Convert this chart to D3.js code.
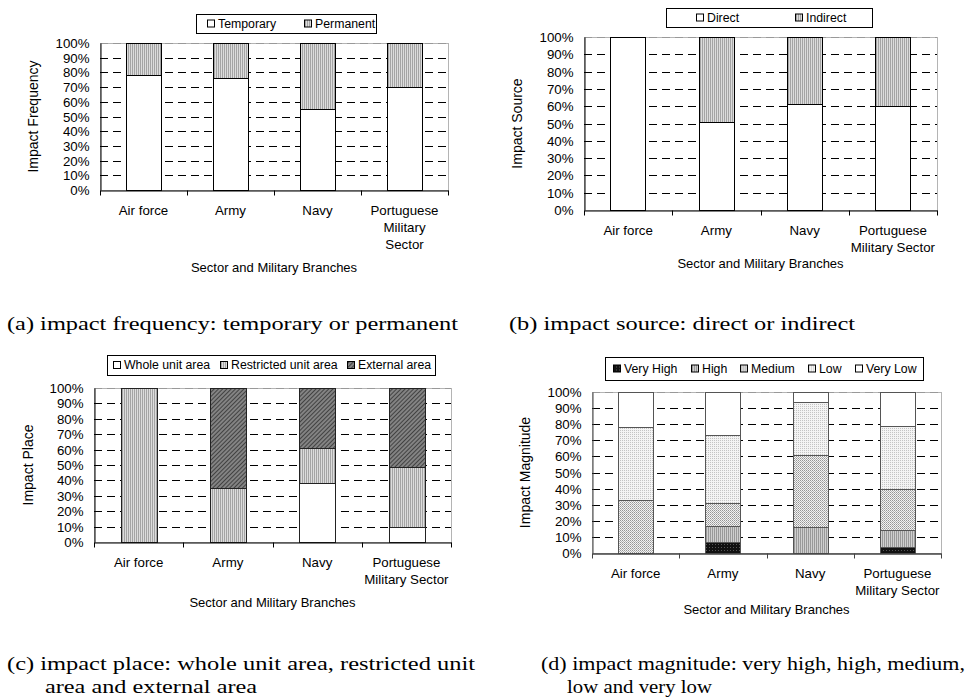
<!DOCTYPE html>
<html>
<head>
<meta charset="utf-8">
<script src="https://cdn.jsdelivr.net/npm/d3@7"></script>
<style>
body { margin: 0; background: #fff; }
svg { display: block; }
text { font-family: "Liberation Sans", Arial, sans-serif; font-size: 13.3px; fill: #000; }
text.ytitle { font-size: 14px; }
text.xtitle { font-size: 13px; }
text.legend { font-size: 12.3px; }
text.caption { font-family: "Liberation Serif", "Times New Roman", serif; font-size: 19.5px; }
</style>
</head>
<body>
<svg id="chart" width="968" height="700"></svg>
<script>
var branches = ["Air force", "Army", "Navy", "Portuguese Military Sector"];
var yTicks = [0, 10, 20, 30, 40, 50, 60, 70, 80, 90, 100];

// (a) frequency
var frequencyKeys = ["Temporary", "Permanent"];
var temporary = [78, 76, 55, 70];
var permanent = [22, 24, 45, 30];

// (b) source
var sourceKeys = ["Direct", "Indirect"];
var direct = [100, 51, 61, 60];
var indirect = [0, 49, 39, 40];

// (c) place
var placeKeys = ["Whole unit area", "Restricted unit area", "External area"];
var wholeUnit = [0, 0, 38, 10];
var restrictedUnit = [100, 35, 23, 39];
var externalArea = [0, 65, 39, 51];

// (d) magnitude
var magnitudeKeys = ["Very High", "High", "Medium", "Low", "Very Low"];
var veryHigh = [0, 7, 0, 4];
var high = [0, 10, 16, 10];
var medium = [33, 14, 45, 26];
var low = [45, 42, 33, 39];
var veryLow = [22, 27, 6, 21];

var svg = d3.select("#chart");
var defs = svg.append("defs");

function pattern(id, w, h, bg) {
  var p = defs.append("pattern").attr("id", id)
    .attr("width", w).attr("height", h)
    .attr("patternUnits", "userSpaceOnUse");
  p.append("rect").attr("width", w).attr("height", h).attr("fill", bg);
  return p;
}
var p1 = pattern("vlines", 2, 4, "#dcdcdc");
p1.append("rect").attr("width", 1).attr("height", 4).attr("fill", "#a4a4a4");
var p2 = pattern("hatch", 3, 3, "#838383").attr("patternTransform", "rotate(45)");
p2.append("rect").attr("width", 1).attr("height", 3).attr("fill", "#424242");
var p3 = pattern("vhigh", 3, 3, "#111");
p3.append("rect").attr("x", 1).attr("y", 1).attr("width", 1).attr("height", 1).attr("fill", "#555");
var p4 = pattern("medium", 2, 2, "#f2f2f2");
p4.append("rect").attr("width", 1).attr("height", 1).attr("fill", "#959595");
p4.append("rect").attr("x", 1).attr("y", 1).attr("width", 1).attr("height", 1).attr("fill", "#b4b4b4");
var p5 = pattern("low", 2, 2, "#f4f4f4");
p5.append("rect").attr("width", 1).attr("height", 1).attr("fill", "#c4c4c4");
var p6 = pattern("high", 2, 4, "#cfcfcf");
p6.append("rect").attr("width", 1).attr("height", 4).attr("fill", "#999");

function wrap(text, width) {
  text.each(function() {
    var t = d3.select(this);
    var words = t.text().split(" ");
    var line = [];
    t.text(null);
    var ts = t.append("tspan").attr("x", 0);
    words.forEach(function(w) {
      line.push(w);
      ts.text(line.join(" "));
      if (ts.node().getComputedTextLength() > width && line.length > 1) {
        line.pop();
        ts.text(line.join(" "));
        line = [w];
        ts = t.append("tspan").attr("x", 0).attr("dy", "17px").text(w);
      }
    });
  });
}

function drawPanel(cfg) {
  var g = svg.append("g");
  var rows = branches.map(function(b, i) {
    var r = { branch: b };
    cfg.keys.forEach(function(k, j) { r[k] = cfg.series[j][i]; });
    return r;
  });
  var stack = d3.stack().keys(cfg.keys)(rows);

  var x = d3.scaleBand().domain(branches)
    .range([cfg.left, cfg.right])
    .paddingInner(0.6).paddingOuter(0.3);
  var y = d3.scaleLinear().domain([0, 100]).rangeRound([cfg.bottom, cfg.top]);

  /* plot border + grid */
  g.append("rect")
    .attr("x", cfg.left + 0.5).attr("y", y(100) + 0.5)
    .attr("width", cfg.right - cfg.left).attr("height", y(0) - y(100))
    .attr("fill", "none").attr("stroke", "#b4b4b4");
  g.append("g").selectAll("line")
    .data(yTicks.filter(function(t) { return t > 0; }))
    .enter().append("line")
    .attr("x1", cfg.left).attr("x2", cfg.right)
    .attr("y1", function(d) { return y(d) + 0.5; })
    .attr("y2", function(d) { return y(d) + 0.5; })
    .attr("stroke", function(d) { return d === 100 ? "#999" : "#000"; })
    .attr("stroke-dasharray", "8,5");

  /* bars */
  g.append("g").selectAll("g")
    .data(stack).enter().append("g")
    .attr("fill", function(d, i) { return cfg.fills[i]; })
    .selectAll("rect")
    .data(function(d) { return d.filter(function(s) { return s[1] - s[0] > 0; }); })
    .enter().append("rect")
    .attr("x", function(d) { return Math.round(x(d.data.branch)) + 0.5; })
    .attr("width", Math.round(x.bandwidth()))
    .attr("y", function(d) { return y(d[1]) + 0.5; })
    .attr("height", function(d) { return y(d[0]) - y(d[1]); })
    .attr("stroke", cfg.barStroke);

  /* axes */
  var yAxis = d3.axisLeft(y).tickValues(yTicks)
    .tickFormat(function(d) { return d + "%"; })
    .tickSize(0).tickPadding(11);
  g.append("g").attr("class", "y axis")
    .attr("transform", "translate(" + (Math.round(cfg.left) + 0.5) + ",0)")
    .call(yAxis)
    .select(".domain").attr("stroke", cfg.axisColor);

  var xAxis = d3.axisBottom(x).tickSize(0).tickPadding(15);
  var xg = g.append("g").attr("class", "x axis")
    .attr("transform", "translate(0," + (y(0) + 0.5) + ")")
    .call(xAxis);
  xg.select(".domain").attr("stroke", cfg.axisColor).attr("stroke-width", cfg.axisWidth);
  xg.selectAll(".tick text").call(wrap, cfg.wrapWidth);
  var bounds = branches.map(function(b) { return x(b) - (x.step() - x.bandwidth()) / 2; });
  bounds.push(cfg.right);
  xg.selectAll(".bound").data(bounds).enter().append("line")
    .attr("x1", function(d) { return Math.round(d) + 0.5; })
    .attr("x2", function(d) { return Math.round(d) + 0.5; })
    .attr("y1", 0).attr("y2", 5)
    .attr("stroke", cfg.axisColor);

  /* axis titles */
  g.append("text").attr("class", "ytitle")
    .attr("transform", "translate(" + cfg.yTitleX + "," + ((cfg.top + cfg.bottom) / 2) + ") rotate(-90)")
    .attr("text-anchor", "middle").attr("dominant-baseline", "central")
    .text(cfg.yTitle);
  g.append("text").attr("class", "xtitle")
    .attr("x", (cfg.left + cfg.right) / 2).attr("y", cfg.xTitleY)
    .attr("text-anchor", "middle")
    .text("Sector and Military Branches");

  /* legend */
  var lb = cfg.legendBox;
  var lg = g.append("g");
  lg.append("rect")
    .attr("x", lb[0] + 0.5).attr("y", lb[1] + 0.5)
    .attr("width", lb[2]).attr("height", lb[3])
    .attr("fill", "#fff").attr("stroke", "#000");
  var mid = lb[1] + lb[3] / 2;
  var item = lg.selectAll(".item").data(cfg.keys).enter().append("g")
    .attr("transform", function(d, i) { return "translate(" + cfg.legendX[i] + "," + mid + ")"; });
  item.append("rect")
    .attr("x", -10.5).attr("y", -3.5)
    .attr("width", 7).attr("height", 7)
    .attr("fill", function(d, i) { return cfg.fills[i]; })
    .attr("stroke", "#000");
  item.append("text").attr("class", "legend")
    .attr("dominant-baseline", "central")
    .text(function(d) { return d; });

  /* caption */
  g.selectAll(".caption").data(cfg.caption).enter().append("text")
    .attr("class", "caption")
    .attr("x", function(d) { return d.x; })
    .attr("y", function(d) { return d.y; })
    .attr("textLength", function(d) { return d.w; })
    .attr("lengthAdjust", "spacingAndGlyphs")
    .text(function(d) { return d.text; });
}

drawPanel({
  keys: frequencyKeys, series: [temporary, permanent],
  fills: ["#fff", "url(#vlines)"],
  left: 100, right: 448, top: 43, bottom: 190,
  barStroke: "#000", axisColor: "#000", axisWidth: 1,
  wrapWidth: 75, yTitle: "Impact Frequency", yTitleX: 33, xTitleY: 272,
  legendBox: [196, 14, 180, 19], legendX: [218, 315],
  caption: [{ text: "(a) impact frequency: temporary or permanent", x: 7, y: 330, w: 451 }]
});

drawPanel({
  keys: sourceKeys, series: [direct, indirect],
  fills: ["#fff", "url(#vlines)"],
  left: 584, right: 937, top: 37, bottom: 210,
  barStroke: "#000", axisColor: "#000", axisWidth: 1,
  wrapWidth: 90, yTitle: "Impact Source", yTitleX: 517, xTitleY: 268,
  legendBox: [666, 8, 206, 19], legendX: [707, 806],
  caption: [{ text: "(b) impact source: direct or indirect", x: 509, y: 330, w: 346 }]
});

drawPanel({
  keys: placeKeys, series: [wholeUnit, restrictedUnit, externalArea],
  fills: ["#fff", "url(#vlines)", "url(#hatch)"],
  left: 94, right: 451, top: 388, bottom: 542,
  barStroke: "#222", axisColor: "#000", axisWidth: 1,
  wrapWidth: 90, yTitle: "Impact Place", yTitleX: 28, xTitleY: 607,
  legendBox: [107, 355, 328, 20], legendX: [124, 231, 358],
  caption: [
    { text: "(c) impact place: whole unit area, restricted unit", x: 7, y: 670, w: 468 },
    { text: "area and external area", x: 45, y: 693, w: 212 }
  ]
});

drawPanel({
  keys: magnitudeKeys, series: [veryHigh, high, medium, low, veryLow],
  fills: ["url(#vhigh)", "url(#high)", "url(#medium)", "url(#low)", "#fff"],
  left: 592, right: 941, top: 392, bottom: 553,
  barStroke: "#555", axisColor: "#444", axisWidth: 1.5,
  wrapWidth: 90, yTitle: "Impact Magnitude", yTitleX: 525, xTitleY: 614,
  legendBox: [605, 357, 318, 23], legendX: [624, 702, 751, 819, 866],
  caption: [
    { text: "(d) impact magnitude: very high, high, medium,", x: 541, y: 670, w: 424 },
    { text: "low and very low", x: 567, y: 693, w: 145 }
  ]
});
</script>
</body>
</html>
